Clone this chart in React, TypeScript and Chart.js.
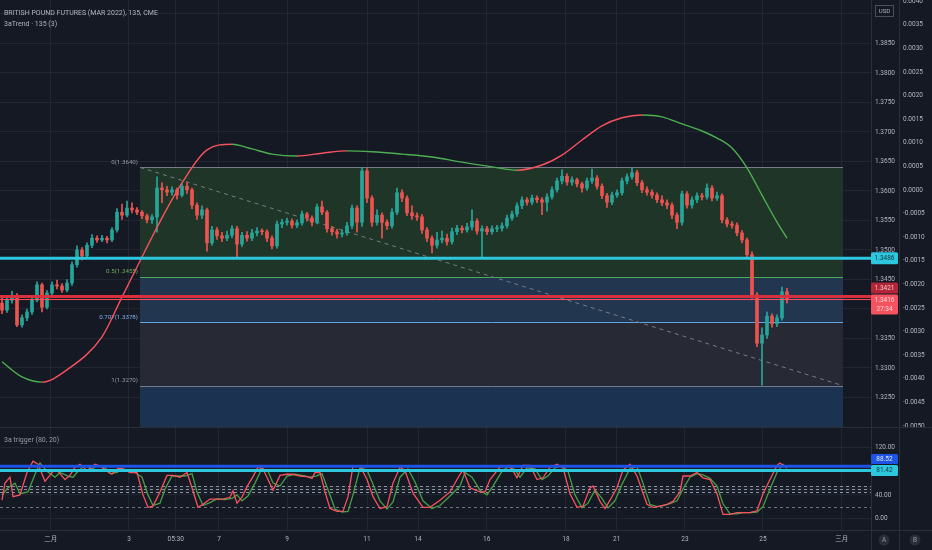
import React, { useEffect, useRef } from "react";
import Chart from "chart.js/auto";

// ---------- DATA ----------
const opens = [
  1.3410, 1.3398, 1.3415, 1.3422, 1.3373, 1.3385, 1.3395, 1.3415, 1.3441, 1.3403,
  1.3427, 1.3441, 1.3439, 1.3432, 1.3444, 1.3475, 1.3500, 1.3490, 1.3508, 1.3520,
  1.3517, 1.3520, 1.3517, 1.3534, 1.3564, 1.3559, 1.3571, 1.3568, 1.3564, 1.3558,
  1.3551, 1.3556, 1.3605, 1.3602, 1.3598, 1.3602, 1.3593, 1.3608, 1.3602, 1.3576,
  1.3559, 1.3568, 1.3512, 1.3534, 1.3524, 1.3520, 1.3525, 1.3536, 1.3510, 1.3525,
  1.3520, 1.3529, 1.3532, 1.3531, 1.3520, 1.3507, 1.3544, 1.3547, 1.3549, 1.3542,
  1.3546, 1.3561, 1.3554, 1.3547, 1.3573, 1.3564, 1.3536, 1.3531, 1.3527, 1.3529,
  1.3541, 1.3571, 1.3547, 1.3634, 1.3588, 1.3547, 1.3559, 1.3547, 1.3541, 1.3564,
  1.3597, 1.3588, 1.3563, 1.3558, 1.3556, 1.3534, 1.3520, 1.3508, 1.3517, 1.3520,
  1.3514, 1.3531, 1.3537, 1.3534, 1.3539, 1.3549, 1.3532, 1.3536, 1.3531, 1.3536,
  1.3537, 1.3541, 1.3554, 1.3561, 1.3575, 1.3585, 1.3581, 1.3588, 1.3585, 1.3581,
  1.3590, 1.3602, 1.3617, 1.3625, 1.3615, 1.3619, 1.3612, 1.3605, 1.3617, 1.3622,
  1.3608, 1.3592, 1.3581, 1.3593, 1.3597, 1.3617, 1.3624, 1.3631, 1.3614, 1.3602,
  1.3598, 1.3593, 1.3585, 1.3580, 1.3576, 1.3559, 1.3547, 1.3595, 1.3576, 1.3585,
  1.3592, 1.3590, 1.3605, 1.3588, 1.3592, 1.3551, 1.3544, 1.3542, 1.3529, 1.3517,
  1.3492, 1.3424, 1.3342, 1.3356, 1.3388, 1.3375, 1.3385, 1.3429,
];
const highs = [
  1.3418, 1.3422, 1.3430, 1.3426, 1.3390, 1.3400, 1.3419, 1.3446, 1.3444, 1.3431,
  1.3446, 1.3449, 1.3443, 1.3450, 1.3480, 1.3507, 1.3504, 1.3512, 1.3526, 1.3524,
  1.3525, 1.3523, 1.3538, 1.3570, 1.3578, 1.3583, 1.3580, 1.3572, 1.3567, 1.3561,
  1.3560, 1.3624, 1.3614, 1.3608, 1.3607, 1.3605, 1.3612, 1.3614, 1.3605, 1.3580,
  1.3575, 1.3571, 1.3540, 1.3538, 1.3530, 1.3532, 1.3541, 1.3540, 1.3530, 1.3531,
  1.3535, 1.3538, 1.3536, 1.3534, 1.3524, 1.3549, 1.3552, 1.3554, 1.3553, 1.3551,
  1.3566, 1.3564, 1.3558, 1.3578, 1.3583, 1.3567, 1.3540, 1.3535, 1.3534, 1.3547,
  1.3576, 1.3575, 1.3640, 1.3638, 1.3592, 1.3568, 1.3563, 1.3551, 1.3570, 1.3605,
  1.3602, 1.3592, 1.3575, 1.3563, 1.3560, 1.3538, 1.3524, 1.3530, 1.3532, 1.3527,
  1.3537, 1.3542, 1.3541, 1.3545, 1.3568, 1.3553, 1.3541, 1.3540, 1.3541, 1.3542,
  1.3546, 1.3559, 1.3566, 1.3580, 1.3590, 1.3589, 1.3593, 1.3592, 1.3589, 1.3595,
  1.3607, 1.3622, 1.3636, 1.3629, 1.3624, 1.3622, 1.3615, 1.3622, 1.3637, 1.3626,
  1.3612, 1.3596, 1.3598, 1.3602, 1.3622, 1.3629, 1.3639, 1.3635, 1.3618, 1.3607,
  1.3602, 1.3597, 1.3592, 1.3585, 1.3580, 1.3563, 1.3600, 1.3599, 1.3590, 1.3597,
  1.3596, 1.3612, 1.3609, 1.3598, 1.3595, 1.3555, 1.3548, 1.3546, 1.3533, 1.3520,
  1.3497, 1.3428, 1.3368, 1.3395, 1.3392, 1.3390, 1.3437, 1.3435,
];
const lows = [
  1.3392, 1.3394, 1.3410, 1.3370, 1.3369, 1.3380, 1.3391, 1.3412, 1.3395, 1.3400,
  1.3422, 1.3434, 1.3428, 1.3429, 1.3440, 1.3471, 1.3483, 1.3486, 1.3504, 1.3513,
  1.3514, 1.3512, 1.3514, 1.3530, 1.3552, 1.3556, 1.3563, 1.3560, 1.3553, 1.3546,
  1.3545, 1.3530, 1.3580, 1.3592, 1.3593, 1.3586, 1.3590, 1.3596, 1.3570, 1.3552,
  1.3553, 1.3498, 1.3508, 1.3518, 1.3514, 1.3516, 1.3521, 1.3488, 1.3506, 1.3515,
  1.3516, 1.3524, 1.3526, 1.3514, 1.3502, 1.3503, 1.3538, 1.3542, 1.3537, 1.3538,
  1.3542, 1.3549, 1.3541, 1.3544, 1.3560, 1.3530, 1.3525, 1.3520, 1.3522, 1.3525,
  1.3536, 1.3530, 1.3540, 1.3580, 1.3540, 1.3542, 1.3520, 1.3535, 1.3537, 1.3560,
  1.3582, 1.3558, 1.3552, 1.3550, 1.3528, 1.3514, 1.3495, 1.3503, 1.3512, 1.3508,
  1.3510, 1.3526, 1.3529, 1.3530, 1.3534, 1.3527, 1.3486, 1.3526, 1.3527, 1.3531,
  1.3532, 1.3537, 1.3550, 1.3557, 1.3570, 1.3576, 1.3577, 1.3580, 1.3560, 1.3566,
  1.3586, 1.3598, 1.3612, 1.3610, 1.3610, 1.3607, 1.3598, 1.3601, 1.3613, 1.3603,
  1.3587, 1.3572, 1.3577, 1.3589, 1.3593, 1.3612, 1.3620, 1.3609, 1.3597, 1.3593,
  1.3588, 1.3580, 1.3575, 1.3570, 1.3553, 1.3536, 1.3542, 1.3571, 1.3571, 1.3580,
  1.3585, 1.3586, 1.3583, 1.3584, 1.3546, 1.3539, 1.3537, 1.3524, 1.3512, 1.3486,
  1.3418, 1.3336, 1.3271, 1.3350, 1.3369, 1.3370, 1.3381, 1.3410,
];
const closes = [
  1.3398, 1.3415, 1.3422, 1.3373, 1.3385, 1.3395, 1.3415, 1.3441, 1.3403, 1.3427,
  1.3441, 1.3439, 1.3432, 1.3444, 1.3475, 1.3500, 1.3490, 1.3508, 1.3520, 1.3517,
  1.3520, 1.3517, 1.3534, 1.3564, 1.3559, 1.3571, 1.3568, 1.3564, 1.3558, 1.3551,
  1.3556, 1.3605, 1.3602, 1.3598, 1.3602, 1.3593, 1.3608, 1.3602, 1.3576, 1.3559,
  1.3568, 1.3512, 1.3534, 1.3524, 1.3520, 1.3525, 1.3536, 1.3510, 1.3525, 1.3520,
  1.3529, 1.3532, 1.3531, 1.3520, 1.3507, 1.3544, 1.3547, 1.3549, 1.3542, 1.3546,
  1.3561, 1.3554, 1.3547, 1.3573, 1.3564, 1.3536, 1.3531, 1.3527, 1.3529, 1.3541,
  1.3571, 1.3547, 1.3634, 1.3588, 1.3547, 1.3559, 1.3547, 1.3541, 1.3564, 1.3597,
  1.3588, 1.3563, 1.3558, 1.3556, 1.3534, 1.3520, 1.3508, 1.3517, 1.3520, 1.3514,
  1.3531, 1.3537, 1.3534, 1.3539, 1.3549, 1.3532, 1.3536, 1.3531, 1.3536, 1.3537,
  1.3541, 1.3554, 1.3561, 1.3575, 1.3585, 1.3581, 1.3588, 1.3585, 1.3581, 1.3590,
  1.3602, 1.3617, 1.3625, 1.3615, 1.3619, 1.3612, 1.3605, 1.3617, 1.3622, 1.3608,
  1.3592, 1.3581, 1.3593, 1.3597, 1.3617, 1.3624, 1.3631, 1.3614, 1.3602, 1.3598,
  1.3593, 1.3585, 1.3580, 1.3576, 1.3559, 1.3547, 1.3595, 1.3576, 1.3585, 1.3592,
  1.3590, 1.3605, 1.3588, 1.3592, 1.3551, 1.3544, 1.3542, 1.3529, 1.3517, 1.3492,
  1.3424, 1.3342, 1.3356, 1.3388, 1.3375, 1.3385, 1.3429, 1.3416,
];

// 3aTrend overlay (bar index, value on the right-most scale)
const trendIdx = [0, 4, 8, 13, 20, 24, 28, 32, 36, 41, 46, 50, 54, 59, 64, 69, 74, 80, 86, 92, 98, 103, 108, 112, 116, 120, 124, 128, 132, 136, 140, 143, 146, 149, 152, 155, 157];
const trendVals = [
  -0.00364, -0.00396, -0.00407, -0.00381, -0.00311, -0.00227, -0.00142, -0.00059, 0.00015, 0.00085,
  0.00097, 0.00087, 0.00076, 0.00072, 0.00078, 0.00083, 0.00081, 0.00076, 0.0007, 0.00059,
  0.00049, 0.00042, 0.00053, 0.00074, 0.00106, 0.00136, 0.00153, 0.00159, 0.00155, 0.0014,
  0.00125, 0.0011, 0.00089, 0.00047, -0.00011, -0.00068, -0.00102,
];

// 3a trigger oscillator: [bar index, value]
const fastLine = [
  [0, 31], [0.6, 60], [1.6, 70], [2.2, 37], [3.6, 40], [5, 78], [6.2, 97], [7.2, 92], [8.6, 63], [10.2, 80],
  [11, 82], [12.6, 66], [13.6, 73], [14.6, 87], [15.6, 92], [17, 81], [18.6, 92], [19.6, 89], [21, 80], [22, 75],
  [23.2, 85], [24.2, 84], [25.6, 78], [27, 78], [28.2, 40], [29.2, 19], [30.2, 21], [31.6, 45], [33, 73], [34.2, 73],
  [35.6, 70], [37, 78], [38, 52], [39.2, 19], [40.2, 24], [41.6, 33], [43, 33], [44.2, 33], [45.6, 36], [46.2, 47],
  [47, 26], [48, 36], [49, 54], [50.2, 71], [51.2, 87], [52.2, 84], [53.2, 66], [54.2, 48], [55.6, 73], [57, 75],
  [58.2, 75], [59.6, 72], [61, 71], [62, 68], [62.6, 78], [63.6, 78], [64.6, 45], [65.6, 17], [67, 12], [68.2, 12],
  [69.2, 37], [70.2, 89], [71.6, 89], [73, 66], [74.2, 37], [75.6, 17], [77, 20], [78.2, 60], [79.6, 87], [80.6, 81],
  [82.2, 43], [84.2, 19], [85.6, 19], [87.6, 31], [89.6, 45], [91.6, 75], [92.2, 82], [93.6, 52], [95.6, 45], [96.6, 45],
  [97.6, 66], [99.6, 87], [101, 90], [102, 84], [103, 69], [104.2, 90], [105.6, 90], [107, 66], [108.2, 69], [109.6, 87],
  [111, 92], [112.2, 86], [113.6, 42], [115, 19], [116.2, 21], [117.6, 52], [118.2, 55], [119.6, 29], [120.6, 17], [121.6, 31],
  [123, 52], [124.2, 82], [125.6, 92], [127, 72], [129, 24], [130.2, 19], [131.6, 21], [133, 24], [134.2, 29], [135.6, 45],
  [136.2, 72], [137.6, 72], [139, 78], [140.2, 69], [141.6, 66], [143, 42], [144.2, 7], [145.6, 7], [147, 10], [148.2, 10],
  [149.6, 10], [151, 13], [152.2, 42], [153.6, 66], [155, 90], [155.6, 94], [156.2, 90], [157, 88],
];
const slowLine = [
  [0, 40], [1.2, 52], [2.6, 60], [3.6, 42], [5.2, 45], [6.6, 75], [7.6, 94], [9, 80], [10.6, 70], [11.6, 78],
  [13.2, 72], [14.2, 70], [15.2, 80], [16.6, 90], [18, 84], [19.2, 90], [20.6, 86], [21.6, 76], [23, 78], [24, 84],
  [25.2, 82], [26.6, 78], [28, 70], [29.2, 40], [30.2, 22], [31.6, 26], [32.6, 50], [34, 72], [35.6, 72], [36.6, 72],
  [38, 76], [39, 45], [40.2, 22], [41.6, 27], [43, 33], [44.6, 32], [46, 34], [47, 40], [48, 30], [49.2, 38],
  [50.6, 60], [52, 85], [53.2, 80], [54.2, 60], [55.6, 55], [57, 72], [58.6, 75], [60, 73], [61.6, 70], [62.8, 72],
  [64, 76], [65.6, 40], [66.6, 16], [68, 11], [69.2, 12], [70.2, 40], [71.6, 86], [73, 82], [74.2, 58], [75.6, 30],
  [77, 16], [78.2, 28], [79.6, 70], [81.2, 84], [82.6, 62], [84.2, 30], [86, 17], [87.6, 22], [89.6, 38], [91.6, 55],
  [92.6, 78], [94, 70], [95.6, 48], [97, 40], [98.2, 55], [100, 80], [101.6, 90], [102.6, 82], [103.6, 70], [105, 86],
  [106.6, 84], [108, 66], [109.2, 72], [110.6, 86], [112, 90], [113.2, 80], [114.6, 40], [116, 18], [117.2, 26], [118.6, 48],
  [120, 34], [121.2, 18], [122.6, 30], [124, 58], [125.6, 85], [127, 88], [128.2, 60], [129.6, 24], [131, 20], [132.2, 22],
  [133.6, 25], [135, 30], [136.2, 50], [137.6, 70], [139, 76], [140.2, 74], [141.6, 68], [143, 55], [144.2, 25], [145.6, 8],
  [147, 8], [148.2, 10], [149.6, 10], [151, 11], [152.2, 20], [153.6, 50], [155, 78], [156.2, 92], [157, 85],
];

// time axis (bar index positions and labels)
const timeTickPos = [9.74, 25.4, 34.74, 43.4, 57, 73, 83.2, 96.94, 112.8, 122.94, 136.6, 152.2, 167.94];
const timeTickLabels = ["二月", "3", "05:30", "7", "9", "11", "14", "16", "18", "21", "23", "25", "三月"];

const priceTicks = [1.325, 1.33, 1.335, 1.34, 1.345, 1.35, 1.355, 1.36, 1.365, 1.37, 1.375, 1.38, 1.385, 1.39];
const trendTicks = [-0.005, -0.0045, -0.004, -0.0035, -0.003, -0.0025, -0.002, -0.0015, -0.001, -0.0005, 0, 0.0005, 0.001, 0.0015, 0.002, 0.0025, 0.003, 0.0035, 0.004];
const oscTicks = [0, 40, 120];

// fib retracement
const fibRatios = [0, 0.5, 0.707, 1];
const fibPrices = [1.364, 1.3455, 1.3378, 1.327];
const fibStartIdx = 27.6;
const fibEndIdx = 168.2;

// horizontal levels
const cyanLevel = 1.3486;
const redLevel = 1.3421;
const lastPrice = 1.3416;
const countdown = "27:34";
const oscBlueLevel = 88.52;
const oscCyanLevel = 81.42;
const oscDashLevels = [80, 55, 50, 45, 20];

// ---------- STYLE ----------
const BG = "#151924";
const GRID = "rgba(42,46,57,0.6)";
const AXIS = "#2a2e39";
const TEXT = "#b2b5be";
const UP = "#26a69a";
const DOWN = "#ef5350";
const FAM = "Roboto, 'Noto Sans CJK SC', sans-serif";
const FS = 6.5;

const X_MIN = -0.4;
const X_MAX = 173.8;

function box(ctx: any, x: number, y: number, w: number, h: number, fill: string) {
  ctx.fillStyle = fill;
  ctx.beginPath();
  const r = 1.5;
  ctx.moveTo(x + r, y);
  ctx.lineTo(x + w - r, y);
  ctx.quadraticCurveTo(x + w, y, x + w, y + r);
  ctx.lineTo(x + w, y + h - r);
  ctx.quadraticCurveTo(x + w, y + h, x + w - r, y + h);
  ctx.lineTo(x + r, y + h);
  ctx.quadraticCurveTo(x, y + h, x, y + h - r);
  ctx.lineTo(x, y + r);
  ctx.quadraticCurveTo(x, y, x + r, y);
  ctx.closePath();
  ctx.fill();
}

function noPad(s: any) {
  s.paddingTop = 0;
  s.paddingBottom = 0;
  s.paddingLeft = 0;
  s.paddingRight = 0;
}

export default function App() {
  const topRef = useRef<HTMLCanvasElement>(null);
  const botRef = useRef<HTMLCanvasElement>(null);

  useEffect(() => {
    document.body.style.margin = "0";
    document.body.style.background = BG;

    const idx = closes.map((_, i) => i);
    const candleColors = closes.map((c, i) => (c >= opens[i] ? UP : DOWN));

    const topOverlay = {
      id: "topOverlay",
      beforeDatasetsDraw(chart: any) {
        const { ctx, chartArea: a, scales } = chart;
        const x = scales.x, y = scales.y;
        const x0 = x.getPixelForValue(fibStartIdx);
        const x1 = x.getPixelForValue(fibEndIdx);
        const ys = fibPrices.map((p) => y.getPixelForValue(p));
        ctx.save();
        ctx.beginPath();
        ctx.rect(a.left, a.top, a.width, a.height);
        ctx.clip();
        const zones = ["#1f3528", "#233650", "#272a35", "#1b3350"];
        const bounds = [ys[0], ys[1], ys[2], ys[3], a.bottom];
        for (let k = 0; k < 4; k++) {
          ctx.fillStyle = zones[k];
          ctx.fillRect(x0, bounds[k], x1 - x0, bounds[k + 1] - bounds[k]);
        }
        const lineCols = ["#787b86", "#4caf50", "#5ea6e6", "#787b86"];
        ys.forEach((yy, k) => {
          ctx.strokeStyle = lineCols[k];
          ctx.lineWidth = 1;
          ctx.beginPath();
          ctx.moveTo(x0, Math.round(yy) + 0.5);
          ctx.lineTo(x1, Math.round(yy) + 0.5);
          ctx.stroke();
        });
        ctx.setLineDash([4, 4]);
        ctx.strokeStyle = "#787b86";
        ctx.beginPath();
        ctx.moveTo(x0, ys[0]);
        ctx.lineTo(x1, ys[3]);
        ctx.stroke();
        ctx.setLineDash([]);
        ctx.restore();

        ctx.save();
        ctx.font = `${FS - 0.3}px ${FAM}`;
        ctx.textAlign = "right";
        ctx.textBaseline = "middle";
        const labCols = ["#9598a1", "#6fae5c", "#7fb3e8", "#9598a1"];
        fibRatios.forEach((r, k) => {
          ctx.fillStyle = labCols[k];
          ctx.fillText(`${r}(${fibPrices[k].toFixed(4)})`, x0 - 2, ys[k] - 5);
        });
        ctx.restore();
      },
      afterDatasetsDraw(chart: any) {
        const { ctx, chartArea: a, scales } = chart;
        const y = scales.y;
        ctx.save();
        ctx.beginPath();
        ctx.rect(a.left, a.top, a.width, a.height);
        ctx.clip();
        const hl = (v: number, col: string, w: number) => {
          const yy = y.getPixelForValue(v);
          ctx.strokeStyle = col;
          ctx.lineWidth = w;
          ctx.beginPath();
          ctx.moveTo(a.left, yy);
          ctx.lineTo(a.right, yy);
          ctx.stroke();
        };
        hl(cyanLevel, "#2ec8de", 3);
        hl(lastPrice, "#f7525f", 1);
        hl(redLevel, "#d8303d", 3);
        ctx.restore();
      },
      afterDraw(chart: any) {
        const { ctx, chartArea: a, scales } = chart;
        const y = scales.y;
        const bx = a.right;
        const bw = 27;
        ctx.save();
        ctx.font = `${FS}px ${FAM}`;
        ctx.textAlign = "center";
        ctx.textBaseline = "middle";
        const cy = y.getPixelForValue(cyanLevel);
        box(ctx, bx, cy - 6, bw, 12, "#2ec8de");
        ctx.fillStyle = "#18303a";
        ctx.fillText(cyanLevel.toFixed(4), bx + bw / 2, cy);
        const py = y.getPixelForValue(lastPrice);
        box(ctx, bx, py - 5, bw, 20, "#f7525f");
        ctx.fillStyle = "#ffd9dc";
        ctx.fillText(lastPrice.toFixed(4), bx + bw / 2, py + 0.5);
        ctx.fillText(countdown, bx + bw / 2, py + 9.5);
        box(ctx, bx, py - 17, bw, 11, "#b3263a");
        ctx.fillStyle = "#f2c4c8";
        ctx.fillText(redLevel.toFixed(4), bx + bw / 2, py - 11.5);
        ctx.fillStyle = BG;
        ctx.fillRect(bx + 3, 4, 21, 14);
        ctx.strokeStyle = "#4a4e59";
        ctx.lineWidth = 1;
        ctx.strokeRect(bx + 4.5, 5.5, 18, 11);
        ctx.fillStyle = TEXT;
        ctx.font = `${FS - 0.5}px ${FAM}`;
        ctx.fillText("USD", bx + 13.5, 11.5);
        ctx.restore();
      },
    };

    const top = new Chart(topRef.current as HTMLCanvasElement, {
      type: "bar",
      data: {
        datasets: [
          {
            type: "line",
            label: "3aTrend",
            yAxisID: "y2",
            data: trendIdx.map((v, i) => ({ x: v, y: trendVals[i] })),
            borderWidth: 1.4,
            pointRadius: 0,
            cubicInterpolationMode: "monotone",
            borderColor: "#4caf50",
            segment: {
              borderColor: (c: any) => (c.p1.parsed.y >= c.p0.parsed.y ? "#f7525f" : "#4caf50"),
            },
          } as any,
          {
            label: "body",
            yAxisID: "y",
            data: idx.map((i) => ({ x: i, y: [opens[i], closes[i]] })) as any,
            backgroundColor: candleColors,
            barThickness: 3,
            grouped: false,
            minBarLength: 1,
          },
          {
            label: "wick",
            yAxisID: "y",
            data: idx.map((i) => ({ x: i, y: [lows[i], highs[i]] })) as any,
            backgroundColor: candleColors,
            barThickness: 1,
            grouped: false,
          },
        ],
      },
      options: {
        animation: false,
        responsive: false,
        events: [],
        layout: { padding: 0 },
        plugins: { legend: { display: false }, tooltip: { enabled: false } },
        scales: {
          x: {
            type: "linear",
            min: X_MIN,
            max: X_MAX,
            offset: false,
            afterBuildTicks: (ax: any) => {
              ax.ticks = timeTickPos.map((v) => ({ value: v }));
            },
            ticks: { display: false },
            grid: { color: GRID, drawTicks: false, offset: false },
            border: { display: false },
            afterFit: (s: any) => {
              s.height = 0;
              noPad(s);
            },
          },
          y: {
            position: "right",
            weight: 0,
            min: 1.31983,
            max: 1.39237,
            afterBuildTicks: (ax: any) => {
              ax.ticks = priceTicks.map((v) => ({ value: v }));
            },
            ticks: {
              color: TEXT,
              font: { family: FAM, size: FS },
              padding: 4,
              callback: (v: any) => Number(v).toFixed(4),
            },
            grid: { color: GRID, drawTicks: false },
            border: { color: AXIS },
            afterFit: (s: any) => {
              s.width = 28;
              noPad(s);
            },
          },
          y2: {
            position: "right",
            weight: 1,
            min: -0.005043,
            max: 0.004026,
            afterBuildTicks: (ax: any) => {
              ax.ticks = trendTicks.map((v) => ({ value: v }));
            },
            ticks: {
              color: TEXT,
              font: { family: FAM, size: FS },
              padding: 4,
              callback: (v: any) => Number(v).toFixed(4),
            },
            grid: { display: false, drawTicks: false },
            border: { color: AXIS },
            afterFit: (s: any) => {
              s.width = 33;
              noPad(s);
            },
          },
        },
      },
      plugins: [topOverlay],
    } as any);

    const botOverlay = {
      id: "botOverlay",
      beforeDatasetsDraw(chart: any) {
        const { ctx, chartArea: a, scales } = chart;
        const y = scales.y;
        ctx.save();
        ctx.fillStyle = "rgba(120,123,134,0.07)";
        const yt = y.getPixelForValue(55), yb = y.getPixelForValue(45);
        ctx.fillRect(a.left, yt, a.width, yb - yt);
        ctx.setLineDash([3, 3]);
        ctx.lineWidth = 1;
        oscDashLevels.forEach((lv) => {
          const yy = Math.round(y.getPixelForValue(lv)) + 0.5;
          ctx.strokeStyle = lv === 80 || lv === 20 ? "#6f7380" : "#8a94a8";
          ctx.beginPath();
          ctx.moveTo(a.left, yy);
          ctx.lineTo(a.right, yy);
          ctx.stroke();
        });
        ctx.setLineDash([]);
        ctx.restore();
      },
      afterDatasetsDraw(chart: any) {
        const { ctx, chartArea: a, scales } = chart;
        const y = scales.y;
        ctx.save();
        const hl = (v: number, col: string, w: number) => {
          const yy = y.getPixelForValue(v);
          ctx.strokeStyle = col;
          ctx.lineWidth = w;
          ctx.beginPath();
          ctx.moveTo(a.left, yy);
          ctx.lineTo(a.right, yy);
          ctx.stroke();
        };
        hl(oscBlueLevel, "#1e53e5", 3);
        hl(oscCyanLevel, "#2ec8de", 3);
        ctx.restore();
      },
      afterDraw(chart: any) {
        const { ctx, chartArea: a, scales, width, height } = chart;
        const y = scales.y;
        const bx = a.right;
        const bw = 27;
        ctx.save();
        ctx.strokeStyle = AXIS;
        ctx.lineWidth = 1;
        ctx.beginPath();
        ctx.moveTo(0, a.bottom + 0.5);
        ctx.lineTo(width, a.bottom + 0.5);
        ctx.moveTo(bx + 0.5, 0);
        ctx.lineTo(bx + 0.5, height);
        ctx.moveTo(bx + 28.5, 0);
        ctx.lineTo(bx + 28.5, height);
        ctx.stroke();
        ctx.font = `${FS}px ${FAM}`;
        ctx.textAlign = "center";
        ctx.textBaseline = "middle";
        const cy = y.getPixelForValue(oscCyanLevel);
        box(ctx, bx, cy - 5.5, bw, 11, "#2ec8de");
        ctx.fillStyle = "#18303a";
        ctx.fillText(oscCyanLevel.toFixed(2), bx + bw / 2, cy);
        box(ctx, bx, cy - 16.5, bw, 10, "#1e53e5");
        ctx.fillStyle = "#dfe6ff";
        ctx.fillText(oscBlueLevel.toFixed(2), bx + bw / 2, cy - 11.5);
        const by = a.bottom + 10;
        [["A", bx + 13], ["B", bx + 44]].forEach(([t, cx]: any) => {
          ctx.fillStyle = "#2a2e39";
          ctx.beginPath();
          ctx.arc(cx, by, 5.5, 0, Math.PI * 2);
          ctx.fill();
          ctx.fillStyle = "#9598a1";
          ctx.fillText(t, cx, by + 0.5);
        });
        ctx.restore();
      },
    };

    const bot = new Chart(botRef.current as HTMLCanvasElement, {
      type: "line",
      data: {
        datasets: [
          {
            label: "fast",
            data: fastLine.map(([xv, yv]) => ({ x: xv, y: yv })),
            borderColor: "#f7525f",
            borderWidth: 1.3,
            pointRadius: 0,
            tension: 0,
          },
          {
            label: "slow",
            data: slowLine.map(([xv, yv]) => ({ x: xv, y: yv })),
            borderColor: "#43a047",
            borderWidth: 1.3,
            pointRadius: 0,
            tension: 0,
          },
        ],
      },
      options: {
        animation: false,
        responsive: false,
        events: [],
        layout: { padding: { right: 33, top: 0, left: 0, bottom: 0 } },
        plugins: { legend: { display: false }, tooltip: { enabled: false } },
        scales: {
          x: {
            type: "linear",
            min: X_MIN,
            max: X_MAX,
            offset: false,
            afterBuildTicks: (ax: any) => {
              ax.ticks = timeTickPos.map((v) => ({ value: v }));
            },
            ticks: {
              color: TEXT,
              font: { family: FAM, size: FS },
              padding: 5,
              autoSkip: false,
              maxRotation: 0,
              callback: (_v: any, i: number) => timeTickLabels[i],
            },
            grid: { color: GRID, drawTicks: false },
            border: { display: false },
            afterFit: (s: any) => {
              s.height = 20;
              noPad(s);
            },
          },
          y: {
            position: "right",
            min: -19.5,
            max: 153.4,
            afterBuildTicks: (ax: any) => {
              ax.ticks = oscTicks.map((v) => ({ value: v }));
            },
            ticks: {
              color: TEXT,
              font: { family: FAM, size: FS },
              padding: 4,
              callback: (v: any) => Number(v).toFixed(2),
            },
            grid: { color: GRID, drawTicks: false },
            border: { display: false },
            afterFit: (s: any) => {
              s.width = 28;
              noPad(s);
            },
          },
        },
      },
      plugins: [botOverlay],
    } as any);

    return () => {
      top.destroy();
      bot.destroy();
    };
  }, []);

  const txt: React.CSSProperties = {
    position: "absolute",
    left: 4,
    fontFamily: FAM,
    fontSize: 7,
    lineHeight: "1",
    color: TEXT,
    whiteSpace: "nowrap",
  };

  return (
    <div style={{ position: "relative", width: 932, height: 550, background: BG, overflow: "hidden" }}>
      <canvas ref={topRef} width={932} height={428} style={{ position: "absolute", left: 0, top: 0 }} />
      <canvas ref={botRef} width={932} height={122} style={{ position: "absolute", left: 0, top: 428 }} />
      <div style={{ position: "absolute", left: 0, top: 427, width: 932, height: 1, background: AXIS }} />
      <div style={{ ...txt, top: 9.5 }}>BRITISH POUND FUTURES (MAR 2022), 135, CME</div>
      <div style={{ ...txt, top: 20.5 }}>3aTrend · 135 (3)</div>
      <div style={{ ...txt, top: 436.5, color: "#9598a1" }}>3a trigger (80, 20)</div>
    </div>
  );
}
